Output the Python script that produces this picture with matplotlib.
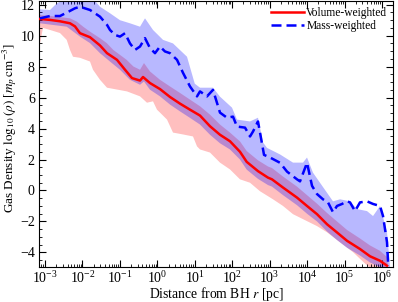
import numpy as np
import matplotlib
matplotlib.use("Agg")
import matplotlib.pyplot as plt
from matplotlib.ticker import LogLocator, MultipleLocator, NullFormatter, FixedLocator

plt.rcParams['font.family'] = ['Liberation Serif', 'DejaVu Serif']
plt.rcParams['mathtext.fontset'] = 'stix'

# ---- data (log10 r [pc], log10 rho) ----
x_tick_exps = [-3, -2, -1, 0, 1, 2, 3, 4, 5, 6]

vol_logr = [-3.134, -2.866, -2.599, -2.332, -2.199, -2.065, -1.798, -1.531, -1.344, -1.077,
            -0.863, -0.676, -0.462, -0.382, -0.196, 0.072, 0.339, 0.606, 0.873, 1.14,
            1.407, 1.674, 1.941, 2.208, 2.387, 2.689, 2.956, 3.063, 3.357, 3.731,
            3.998, 4.265, 4.532, 4.799, 5.067, 5.413, 5.681, 5.948, 6.135]
vol_med = [11.08, 11.02, 10.93, 10.8, 10.6, 10.16, 9.9, 9.37, 8.87, 8.44,
           7.8, 7.26, 7.1, 7.33, 6.94, 6.55, 6.04, 5.61, 5.22, 4.84,
           4.15, 3.6, 3.18, 2.5, 1.85, 1.25, 0.83, 0.72, 0.19, -0.46,
           -1.0, -1.53, -2.18, -2.71, -3.25, -3.78, -4.25, -4.54, -4.86]

vol_hi_logr = [-3.134, -2.69, -2.332, -2.15, -1.98, -1.798, -1.531, -1.35, -1.176, -0.997,
               -0.82, -0.64, -0.462, -0.356, -0.196, 0.072, 0.339, 0.606, 0.873, 1.14,
               1.407, 1.674, 1.941, 2.208, 2.387, 2.689, 2.956, 3.063, 3.357, 3.731,
               3.998, 4.265, 4.532, 4.799, 5.067, 5.413, 5.681, 5.948, 6.135, 6.162]
vol_hi = [11.34, 11.23, 11.12, 10.91, 10.58, 10.26, 9.84, 9.52, 9.08, 8.76,
          8.44, 8.01, 7.8, 8.23, 7.69, 7.15, 6.72, 6.3, 5.87, 5.44,
          4.9, 4.26, 3.74, 3.17, 2.55, 1.95, 1.55, 1.45, 0.9, 0.25,
          -0.3, -0.85, -1.45, -2.0, -2.55, -3.1, -3.55, -3.9, -4.3, -4.95]

vol_lo_logr = [-3.134, -3.053, -2.866, -2.599, -2.42, -2.332, -2.252, -2.065, -1.798, -1.718,
               -1.531, -1.344, -0.81, -0.462, -0.276, -0.115, -0.009, 0.072, 0.259, 0.419,
               0.686, 0.953, 1.06, 1.14, 1.407, 1.674, 1.941, 2.208, 2.476, 2.743,
               3.09, 3.357, 3.624, 3.998, 4.265, 4.532, 4.88, 5.226, 5.494, 5.681, 6.162]
vol_lo = [9.5, 10.5, 10.37, 10.17, 9.73, 9.08, 8.64, 8.57, 8.33, 7.8,
          7.15, 6.64, 6.4, 6.08, 5.67, 5.76, 5.22, 5.03, 4.58, 3.74,
          3.62, 3.49, 2.85, 2.65, 2.45, 1.8, 1.36, 0.72, 0.5, -0.05,
          -0.57, -1.0, -1.53, -1.98, -2.3, -2.7, -3.35, -3.98, -4.6, -5.0, -5.0]

mass_logr = [-3.134, -2.866, -2.599, -2.412, -2.199, -2.065, -1.798, -1.531, -1.344, -1.264,
             -1.13, -0.997, -0.863, -0.73, -0.596, -0.462, -0.329, -0.196, -0.062, 0.072,
             0.205, 0.339, 0.526, 0.686, 0.873, 1.06, 1.14, 1.327, 1.487, 1.674,
             1.861, 2.021, 2.128, 2.342, 2.476, 2.556, 2.689, 2.85, 3.01, 3.277,
             3.464, 3.731, 3.811, 3.998, 4.132, 4.265, 4.425, 4.559, 4.692, 4.799,
             4.933, 5.067, 5.147, 5.28, 5.413, 5.6, 5.761, 5.948, 6.028, 6.135, 6.162]
mass_med = [11.12, 11.27, 11.27, 11.5, 11.77, 11.87, 11.66, 11.23, 10.7, 10.37,
            10.05, 9.94, 10.16, 9.5, 9.08, 9.3, 9.84, 9.2, 8.87, 9.3,
            8.98, 8.87, 8.44, 7.6, 6.72, 6.08, 6.4, 6.08, 6.5, 5.03,
            4.7, 4.77, 4.13, 4.06, 3.49, 3.81, 4.46, 2.3, 2.13, 1.79,
            1.22, 0.72, 0.59, 1.79, 0.3, -0.23, -0.57, -0.77, -1.4, -1.0,
            -0.87, -0.7, -0.77, -1.33, -0.77, -0.7, -0.87, -1.0, -1.65, -3.35, -4.6]

mass_hi_logr = [-3.134, -2.866, -2.679, -2.412, -1.718, -1.531, -1.264, -0.997, -0.73, -0.462,
                -0.329, -0.115, 0.152, 0.419, 0.793, 1.0, 1.14, 1.487, 1.674, 1.995,
                2.128, 2.476, 2.689, 2.823, 2.93, 3.277, 3.624, 3.891, 3.998, 4.158,
                4.345, 4.692, 4.88, 5.147, 5.333, 5.6, 5.761, 5.948, 6.135, 6.215]
mass_hi = [11.7, 11.66, 12.1, 12.4, 12.4, 11.87, 11.45, 11.0, 10.8, 10.58,
           11.12, 10.37, 9.73, 9.5, 8.64, 6.9, 6.64, 6.64, 6.06, 5.35,
           4.58, 4.46, 4.7, 3.1, 2.75, 2.33, 1.8, 1.8, 2.13, 1.15,
           0.5, -0.7, -0.57, -0.7, -1.2, -1.33, -1.65, -1.0, -2.7, -4.95]

mass_lo_logr = [-3.134, -2.42, -2.065, -1.798, -1.531, -1.264, -0.997, -0.73, -0.462, -0.356,
                -0.196, 0.072, 0.339, 0.606, 0.873, 1.14, 1.407, 1.674, 1.941, 2.208,
                2.387, 2.689, 2.956, 3.063, 3.357, 3.731, 3.998, 4.265, 4.532, 4.799,
                5.067, 5.413, 5.681, 5.948, 6.162]
mass_lo = [10.8, 10.58, 9.94, 9.52, 8.87, 8.33, 7.8, 7.15, 6.83, 7.04,
           6.51, 6.08, 5.55, 5.11, 4.69, 4.26, 3.6, 3.05, 2.65, 2.0,
           1.35, 0.75, 0.35, 0.25, -0.3, -0.95, -1.5, -2.0, -2.65, -3.2,
           -3.7, -4.2, -4.65, -4.95, -5.0]

def r(lst):
    return 10.0 ** np.asarray(lst, dtype=float)

fig = plt.figure(figsize=(3.98, 3.02), dpi=100)
ax = fig.add_axes([39/398, 1-266.5/302, (393-39)/398, (266.5-1)/302])

# bands
ax.fill(np.concatenate([r(vol_hi_logr), r(vol_lo_logr)[::-1]]),
        np.concatenate([vol_hi, vol_lo[::-1]]),
        color='red', alpha=0.25, lw=0, zorder=1)
ax.fill(np.concatenate([r(mass_hi_logr), r(mass_lo_logr)[::-1]]),
        np.concatenate([mass_hi, mass_lo[::-1]]),
        color='blue', alpha=0.28, lw=0, zorder=2)

ax.plot(r(vol_logr), vol_med, color='red', lw=1.8, label='Volume-weighted', zorder=3)
ax.plot(r(mass_logr), mass_med, color='blue', lw=1.8, ls=(0, (4, 2)),
        label='Mass-weighted', zorder=4)

ax.set_xscale('log')
ax.set_xlim(6.92e-4, 1.97e6)
ax.set_ylim(-4.91, 12.24)

ax.xaxis.set_major_locator(FixedLocator(r(x_tick_exps)))
ax.xaxis.set_minor_locator(LogLocator(base=10, subs=np.arange(2, 10), numticks=200))
ax.xaxis.set_minor_formatter(NullFormatter())
ax.yaxis.set_major_locator(MultipleLocator(2))
ax.yaxis.set_minor_locator(MultipleLocator(0.5))

ax.tick_params(which='both', direction='in', top=True, right=True, labelsize=10)
ax.tick_params(which='major', length=5, width=0.8)
ax.tick_params(which='minor', length=2.5, width=0.6)
ax.tick_params(axis='x', pad=2.5)
ax.tick_params(axis='y', pad=3)

ax.set_xlabel(r'Distance from BH $r$ [pc]', fontsize=9.8, labelpad=-0.8)
ax.set_ylabel(r'Gas Density $\log_{10}(\rho)$ [$m_p\,\mathrm{cm}^{-3}$]', fontsize=9.5)
ax.yaxis.set_label_coords(-0.056, 0.52)

ax.legend(loc='upper right', frameon=False, fontsize=8.3, handlelength=2.9,
          borderaxespad=0.25, borderpad=0.25, labelspacing=0.1, handletextpad=0.2)

fig.savefig('out.png', dpi=100)
